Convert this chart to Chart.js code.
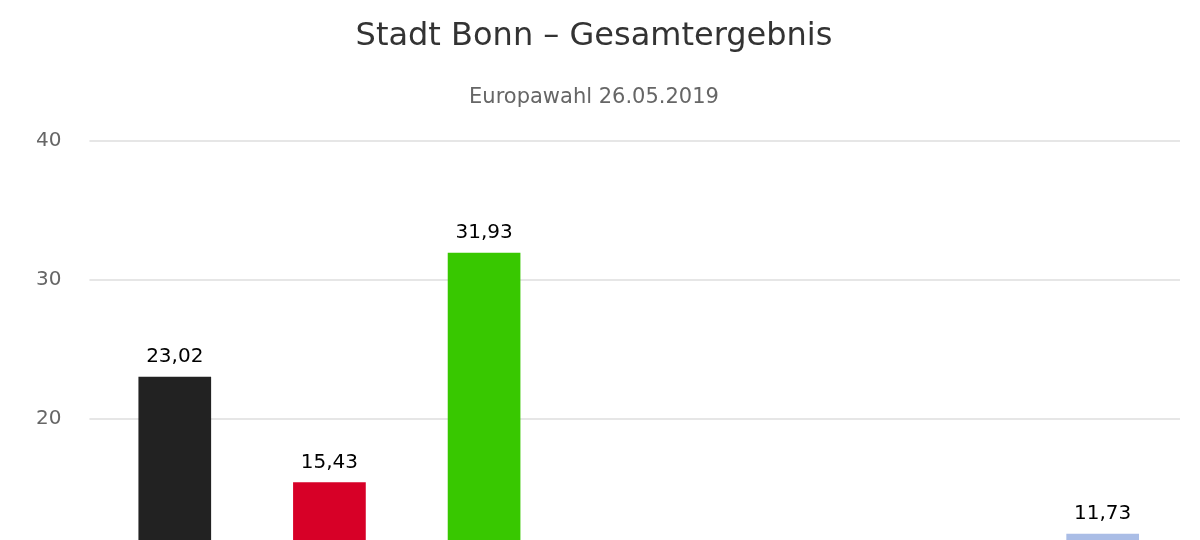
<!DOCTYPE html>
<html><head><meta charset="utf-8">
<script src="https://cdn.jsdelivr.net/npm/chart.js@4/dist/chart.umd.min.js"></script>
<style>html,body{margin:0;padding:0;overflow:hidden;background:#fff}#w{width:1200px;height:737px}</style>
</head><body><div id="w"><canvas id="c"></canvas></div>
<script>
const categories=["CDU","SPD","GRÜNE","FDP","AfD","DIE LINKE","Sonstige"];
const values=[23.02,15.43,31.93,8.5,5.0,4.3,11.73];
const colors=["#222222","#d70027","#38c800","#ffe500","#009ee0","#be3075","#aabde6"];
const labelPlugin={id:"lbl",afterDatasetsDraw(ch){const c=ch.ctx;const m=ch.getDatasetMeta(0);c.save();c.font="20px 'DejaVu Sans'";c.fillStyle="#000";c.textAlign="center";c.textBaseline="bottom";m.data.forEach((b,i)=>{c.fillText(values[i].toFixed(2).replace(".",","),b.x,b.y-10);});c.restore();}};
new Chart(document.getElementById("c"),{type:"bar",
data:{labels:categories,datasets:[{data:values,backgroundColor:colors}]},
plugins:[labelPlugin],
options:{responsive:true,maintainAspectRatio:false,animation:false,
layout:{padding:{left:8,right:20,top:10}},
plugins:{legend:{display:false},tooltip:{enabled:false},
title:{display:true,text:"Stadt Bonn – Gesamtergebnis",color:"#333",font:{family:"DejaVu Sans",size:32,weight:"normal"},padding:{top:7,bottom:30}},
subtitle:{display:true,text:"Europawahl 26.05.2019",color:"#666",font:{family:"DejaVu Sans",size:21},padding:{bottom:30}}},
scales:{x:{grid:{display:false},border:{display:true,color:"#ccd6eb"},ticks:{color:"#666",font:{family:"DejaVu Sans",size:18}}},
y:{min:0,max:40,ticks:{stepSize:10,color:"#666",padding:28,font:{family:"DejaVu Sans",size:20}},grid:{color:"#e6e6e6",lineWidth:2},border:{display:false}}},
datasets:{bar:{categoryPercentage:1,barPercentage:0.47}}}});
</script></body></html>
